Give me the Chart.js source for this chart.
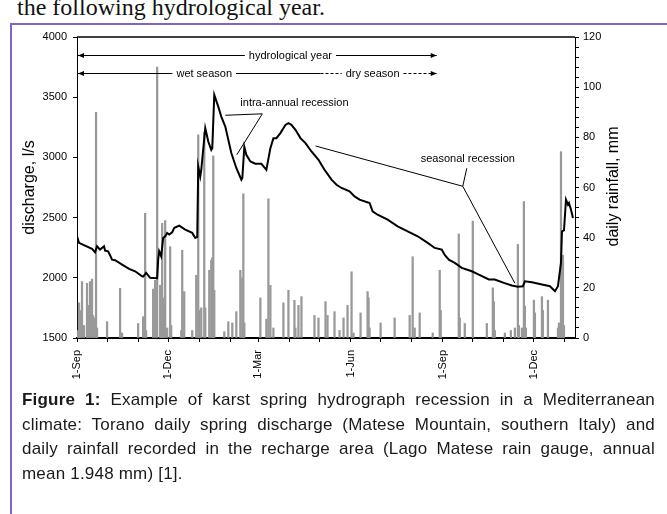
<!DOCTYPE html>
<html>
<head>
<meta charset="utf-8">
<script src="https://cdn.jsdelivr.net/npm/chart.js@4.4.1/dist/chart.umd.min.js"></script>
<style>
  html, body { margin: 0; padding: 0; background: #fff; }
  body { width: 667px; height: 514px; overflow: hidden; position: relative; font-family: 'Liberation Sans', Arial, sans-serif; }
  #lead { position: absolute; left: 17px; top: -7px; font-family: 'Liberation Serif', 'Times New Roman', serif; font-size: 24px; line-height: 28px; color: #111; white-space: nowrap; }
  #wrap { position: absolute; left: 0; top: 0; width: 667px; height: 390px; }
  #frameTop { position: absolute; left: 10px; top: 23px; width: 657px; height: 2px; background: #8063c4; z-index: 2; }
  #frameLeft { position: absolute; left: 10px; top: 23px; width: 2px; height: 491px; background: #8063c4; z-index: 2; }
  #caption { position: absolute; left: 22px; top: 388px; width: 633px; font-size: 17px; line-height: 24.5px; letter-spacing: 0.2px; color: #1a1a1a; }
  #caption .j { text-align: justify; text-align-last: justify; }
</style>
</head>
<body>
<div id="lead">the following hydrological year.</div>
<div id="frameTop"></div>
<div id="frameLeft"></div>
<div id="wrap"><canvas id="myChart" width="667" height="390"></canvas></div>
<div id="caption">
  <div class="j"><b>Figure 1:</b> Example of karst spring hydrograph recession in a Mediterranean</div>
  <div class="j">climate: Torano daily spring discharge (Matese Mountain, southern Italy) and</div>
  <div class="j">daily rainfall recorded in the recharge area (Lago Matese rain gauge, annual</div>
  <div>mean 1.948 mm) [1].</div>
</div>
<script>
// days counted from 1-Sep of the first year
const monthStarts = [0, 30, 61, 91, 122, 153, 181, 212, 242, 273, 303, 334, 365, 395, 426, 456, 487];
const quarterDays = [0, 91, 181, 273, 365, 456];
const quarterLabels = ['1-Sep', '1-Dec', '1-Mar', '1-Jun', '1-Sep', '1-Dec'];

// spring discharge, l/s
const flowDays = [0, 2, 8, 15, 18, 20, 23, 27, 28, 31, 33, 35, 38, 45, 52, 58, 65, 66, 69, 73, 80, 81, 82, 84, 86, 88,
  90, 92, 95, 97, 99, 102, 108, 115, 118, 120, 121, 123, 124, 128, 131, 134, 135, 137, 141, 144, 148, 151, 154, 159,
  164, 165, 167, 169, 173, 178, 184, 189, 193, 196, 199, 203, 208, 211, 214, 218, 223, 228, 234, 241, 247, 254, 259,
  264, 272, 277, 282, 292, 295, 300, 310, 320, 330, 340, 350, 357, 364, 367, 371, 377, 384, 394, 401, 411, 417, 426,
  434, 440, 445, 447, 454, 464, 472, 477, 480, 483, 484, 486, 488, 490, 491, 493, 495];
const flowValues = [2345, 2290, 2267, 2240, 2212, 2262, 2234, 2262, 2226, 2220, 2187, 2151, 2146, 2110, 2074, 2054, 2013, 2010, 2041, 2000, 1997, 2151, 2220, 2179, 2331, 2345,
  2372, 2359, 2378, 2414, 2422, 2433, 2400, 2373, 2331, 2340, 2925, 2842, 2897, 3243, 3132, 3063, 3077, 3519, 3422, 3339, 3256, 3146, 3036, 2912,
  2815, 2830, 3086, 3022, 2966, 2947, 2947, 2897, 3077, 3160, 3160, 3202, 3270, 3284, 3270, 3229, 3160, 3119, 3049, 2980, 2897, 2815, 2773,
  2746, 2718, 2676, 2649, 2621, 2552, 2524, 2483, 2427, 2386, 2345, 2290, 2248, 2234, 2190, 2151, 2124, 2082, 2054, 2027, 1986, 1986, 1958,
  1936, 1925, 1930, 1971, 1963, 1944, 1930, 1889, 1930, 2124, 2386, 2394, 2649, 2607, 2621, 2566, 2497];

// daily rainfall, mm
const rainDays = [1, 2, 3, 5, 7, 10, 11, 13, 15, 16, 18, 19, 20, 30, 43, 45, 61, 66, 68, 69, 76, 78, 80, 83, 84, 85, 86, 87, 88, 90,
  93, 94, 104, 105, 107, 115, 119, 121, 122, 124, 127, 128, 132, 134, 135, 136, 137, 147, 151, 155, 159, 163, 165, 166, 167,
  183, 189, 191, 193, 196, 206, 211, 217, 218, 221, 224, 237, 241, 248, 250, 257, 262, 266, 270, 274, 276, 283, 290, 291,
  292, 303, 317, 332, 335, 337, 342, 355, 362, 363, 381, 382, 387, 395, 409, 415, 416, 417, 427, 433, 437, 440, 441, 444,
  446, 447, 448, 456, 457, 464, 465, 470, 480, 481, 483, 485, 486];
const rainValues = [3, 14, 11, 22.5, 5, 21.8, 13, 22.5, 23.5, 9, 8, 90, 4, 6.5, 19.8, 2, 5.8, 8.5, 49.7, 3, 19.5, 23, 108, 21, 14, 45.7, 16, 13, 46.8, 4,
  36.4, 5, 3, 35, 18.5, 3, 25, 81, 11, 12, 82, 12, 27, 31, 32, 72.6, 19, 2.5, 6.5, 6, 10.5, 27, 24, 57.5, 6,
  16, 7.5, 55.5, 21, 4, 14, 19, 15, 4, 13, 16.5, 9, 8, 14.5, 9, 10.5, 3, 8, 13, 26.4, 2, 10, 18.5, 16,
  4, 6, 8, 9, 32.4, 4, 10, 2, 27, 11, 41.5, 8, 5.8, 46.6, 5.8, 20, 14.5, 3, 2, 3, 4, 37.3, 5, 4,
  54.4, 12.7, 4, 15.1, 10, 16.5, 11, 15.1, 4, 6, 74.3, 33, 5];

// annotation anchors (day, discharge)
const hydroYear = { from: 0, to: 359, text: 213, level: 3850 };
const seasons = { from: 0, wetText: 127, split: 243, dryText: 295, to: 359, level: 3700 };

const TXT = "11px 'Liberation Sans', Arial, sans-serif";

function arrowHead(ctx, px, py, dir) {
  ctx.beginPath();
  ctx.moveTo(px, py);
  ctx.lineTo(px - dir * 6, py - 2.5);
  ctx.lineTo(px - dir * 6, py + 2.5);
  ctx.closePath();
  ctx.fill();
}

function seg(ctx, x1, y1, x2, y2, dash) {
  ctx.setLineDash(dash || []);
  ctx.beginPath();
  ctx.moveTo(x1, y1);
  ctx.lineTo(x2, y2);
  ctx.stroke();
  ctx.setLineDash([]);
}

const overlay = {
  id: 'overlay',
  afterDraw(chart) {
    const { ctx, chartArea: a, scales: { x, y } } = chart;
    const px = d => x.getPixelForValue(d);
    const py = v => y.getPixelForValue(v);
    ctx.save();
    ctx.strokeStyle = '#000';
    ctx.fillStyle = '#000';

    // top of frame
    ctx.lineWidth = 1.5;
    seg(ctx, a.left, a.top, a.right, a.top);
    ctx.lineWidth = 1;

    ctx.font = TXT;
    ctx.textAlign = 'center';
    ctx.textBaseline = 'middle';

    // hydrological year
    let yy = Math.round(py(hydroYear.level)) + 0.5;
    let tc = px(hydroYear.text);
    let w = ctx.measureText('hydrological year').width;
    ctx.fillText('hydrological year', tc, yy);
    seg(ctx, px(hydroYear.from) + 1, yy, tc - w / 2 - 4, yy);
    seg(ctx, tc + w / 2 + 4, yy, px(hydroYear.to), yy);
    arrowHead(ctx, px(hydroYear.from) + 1, yy, -1);
    arrowHead(ctx, px(hydroYear.to), yy, 1);

    // wet / dry season
    yy = Math.round(py(seasons.level)) + 0.5;
    tc = px(seasons.wetText);
    w = ctx.measureText('wet season').width;
    ctx.fillText('wet season', tc, yy);
    seg(ctx, px(seasons.from) + 1, yy, tc - w / 2 - 4, yy);
    seg(ctx, tc + w / 2 + 4, yy, px(seasons.split), yy);
    arrowHead(ctx, px(seasons.from) + 1, yy, -1);
    tc = px(seasons.dryText);
    w = ctx.measureText('dry season').width;
    ctx.fillText('dry season', tc, yy);
    seg(ctx, px(seasons.split), yy, tc - w / 2 - 4, yy, [3, 2]);
    seg(ctx, tc + w / 2 + 4, yy, px(seasons.to), yy, [3, 2]);
    arrowHead(ctx, px(seasons.to), yy, 1);

    // intra-annual recession
    ctx.fillText('intra-annual recession', px(217), py(3453));
    seg(ctx, px(185), py(3362), px(148), py(3350));
    seg(ctx, px(185), py(3362), px(159.5), py(3022));

    // seasonal recession
    ctx.fillText('seasonal recession', px(390), py(2985));
    seg(ctx, px(385), py(2760), px(389), py(2910));
    seg(ctx, px(385), py(2760), px(238), py(3095));
    seg(ctx, px(385), py(2760), px(437), py(1955));

    // axis titles
    ctx.font = "16px 'Liberation Sans', Arial, sans-serif";
    ctx.textBaseline = 'alphabetic';
    ctx.save();
    ctx.translate(a.left - 43, (a.top + a.bottom) / 2);
    ctx.rotate(-Math.PI / 2);
    ctx.fillText('discharge, l/s', 0, 0);
    ctx.restore();
    ctx.save();
    ctx.translate(a.right + 43, (a.top + a.bottom) / 2 - 1);
    ctx.rotate(-Math.PI / 2);
    ctx.fillText('daily rainfall, mm', 0, 0);
    ctx.restore();

    ctx.restore();
  }
};

Chart.defaults.font.family = "'Liberation Sans', Arial, sans-serif";
Chart.defaults.font.size = 11;
Chart.defaults.color = '#000';

const ctx = document.getElementById('myChart');
const myChart = new Chart(ctx, {
  type: 'bar',
  data: {
    datasets: [
      {
        type: 'line',
        label: 'discharge',
        data: flowDays.map((d, i) => ({ x: d, y: flowValues[i] })),
        borderColor: '#000',
        borderWidth: 2,
        pointRadius: 0,
        tension: 0,
        yAxisID: 'y',
        order: 0
      },
      {
        type: 'bar',
        label: 'rainfall',
        data: rainDays.map((d, i) => ({ x: d, y: rainValues[i] })),
        backgroundColor: '#999',
        barThickness: 1.6,
        yAxisID: 'y1',
        order: 1
      }
    ]
  },
  options: {
    responsive: false,
    animation: false,
    devicePixelRatio: 1,
    layout: { padding: { top: 37, left: 0, right: 0, bottom: 0 } },
    plugins: { legend: { display: false }, tooltip: { enabled: false } },
    scales: {
      x: {
        type: 'linear',
        min: 0,
        max: 497,
        offset: false,
        afterBuildTicks: s => { s.ticks = monthStarts.map(v => ({ value: v })); },
        afterFit: s => { s.height = 52; },
        ticks: {
          autoSkip: false,
          minRotation: 90,
          maxRotation: 90,
          padding: 8,
          callback: v => { const i = quarterDays.indexOf(v); return i >= 0 ? quarterLabels[i] : ''; }
        },
        grid: { drawOnChartArea: false, tickLength: 4, color: '#000', offset: false },
        border: { color: '#000', width: 2 }
      },
      y: {
        position: 'left',
        min: 1500,
        max: 4000,
        afterFit: s => { s.width = 77; },
        ticks: { stepSize: 500, padding: 6, callback: v => String(v) },
        grid: { drawOnChartArea: false, tickLength: 4, color: '#000' },
        border: { color: '#000', width: 1 }
      },
      y1: {
        position: 'right',
        min: 0,
        max: 120,
        afterFit: s => { s.width = 92; },
        ticks: { stepSize: 4, autoSkip: false, padding: 4, callback: v => (v % 20 === 0 ? String(v) : '') },
        grid: { drawOnChartArea: false, tickLength: 4, color: '#000' },
        border: { color: '#000', width: 1 }
      }
    }
  },
  plugins: [overlay]
});
</script>
</body>
</html>
